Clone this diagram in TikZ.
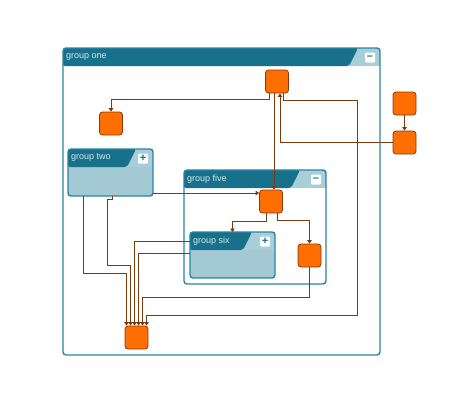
\documentclass[tikz,border=0pt]{standalone}
\usepackage{fontspec}
\setmainfont{Liberation Sans}
\usetikzlibrary{arrows.meta,fit}
\definecolor{headdark}{HTML}{17718A}
\definecolor{headlight}{HTML}{A8CEDA}
\definecolor{bodyblue}{HTML}{A3C9D5}
\definecolor{grpline}{HTML}{2B84A0}
\definecolor{boxfill}{HTML}{FF6E00}
\definecolor{boxline}{HTML}{8A3A0A}
\definecolor{edgecol}{HTML}{7A3B10}
\definecolor{labelcol}{HTML}{D2E7EE}
\tikzset{>/.tip={Triangle[width=4.5pt,length=3.5pt]},
  box/.style={draw=boxline, fill=boxfill, rounded corners=3pt, minimum size=23pt, inner sep=0pt, line width=0.8pt},
  edge/.style={draw=edgecol, line width=0.8pt, ->},
  grp/.style={inner sep=0pt, outer sep=0pt},
  grplabel/.style={text=labelcol, font=\fontsize{9}{10}\selectfont, inner sep=0pt, anchor=west},
  btn/.style={fill=white, text=headdark, rounded corners=1pt, minimum size=10pt, inner sep=0pt, font=\bfseries\fontsize{11}{11}\selectfont}}

% #1 name, #2,#3 top left, #4,#5 bottom right, #6 end of dark header, #7 body, #8 label, #9 button
\newcommand{\grp}[9]{%
  \node[grp, fill=#7, fit={(#2,#3) (#4,#5)}] (#1) {};
  \begin{scope}
    \clip[rounded corners=3pt] (#2,#3) rectangle (#4,#5);
    \fill[headlight] (#2,#3) rectangle (#4,#3+18);
    \fill[headdark, rounded corners=2pt] (#2,#3) -- (#6,#3) -- (#6-9,#3+18) -- (#2,#3+18) -- cycle;
  \end{scope}
  \draw[grpline, line width=1.4pt, rounded corners=3pt] (#2,#3) rectangle (#4,#5);
  \node[grplabel] at (#2+3,#3+9) {#8};
  \node[btn] at (#4-10,#3+9.5) {#9};
}

\begin{document}
\begin{tikzpicture}[x=1pt, y=-1pt]
\useasboundingbox (0,0) rectangle (460,400);

\grp{one}{63}{48}{380}{355}{358}{white}{group one}{–}
\grp{two}{68}{149}{153}{196}{136}{bodyblue}{group two}{+}
\grp{five}{184}{170}{326}{284}{300}{white}{group five}{–}
\grp{six}{190}{232}{275}{278}{252}{bodyblue}{group six}{+}

\node[box] (a) at (277,81.5)   {};
\node[box] (b) at (111,123.5)  {};
\node[box] (c) at (271,201.5)  {};
\node[box] (d) at (309.5,255.5) {};
\node[box] (e) at (136.5,337.5) {};
\node[box] (f) at (404.5,103.5) {};
\node[box] (g) at (404.5,142.5) {};

\draw[edge] ([xshift=-8]a.south) |- ([yshift=12]b.north) -- (b.north);
\draw[edge] ([xshift=-3]a.south) -- ([xshift=3]c.north);
\draw[edge] (g.west) -| ([xshift=3]a.south);
\draw[edge] ([xshift=6]a.south) |- (357,100) |- (146.5,315) -- ([xshift=10]e.north);
\draw[edge] (f) -- (g);

\draw[edge] ([yshift=3]two.south east) -- ([yshift=8.5]c.west);
\draw[edge] ([xshift=15]two.south west) |- (126.5,273) -- ([xshift=-10]e.north);
\draw[edge] ([xshift=44]two.south west) |- (107,199) |- (130.5,265) -- ([xshift=-6]e.north);
\draw[edge] ([yshift=-9]six.north west) -| ([xshift=-2]e.north);
\draw[edge] ([yshift=-21]six.north west) -| ([xshift=2]e.north);
\draw[edge] (d.south) |- (142.5,297) -- ([xshift=6]e.north);

\draw[edge] ([xshift=-5]c.south) |- ([yshift=11]six.north) -- (six.north);
\draw[edge] ([xshift=6]c.south) |- ([yshift=23]d.north) -- (d.north);
\end{tikzpicture}
\end{document}
